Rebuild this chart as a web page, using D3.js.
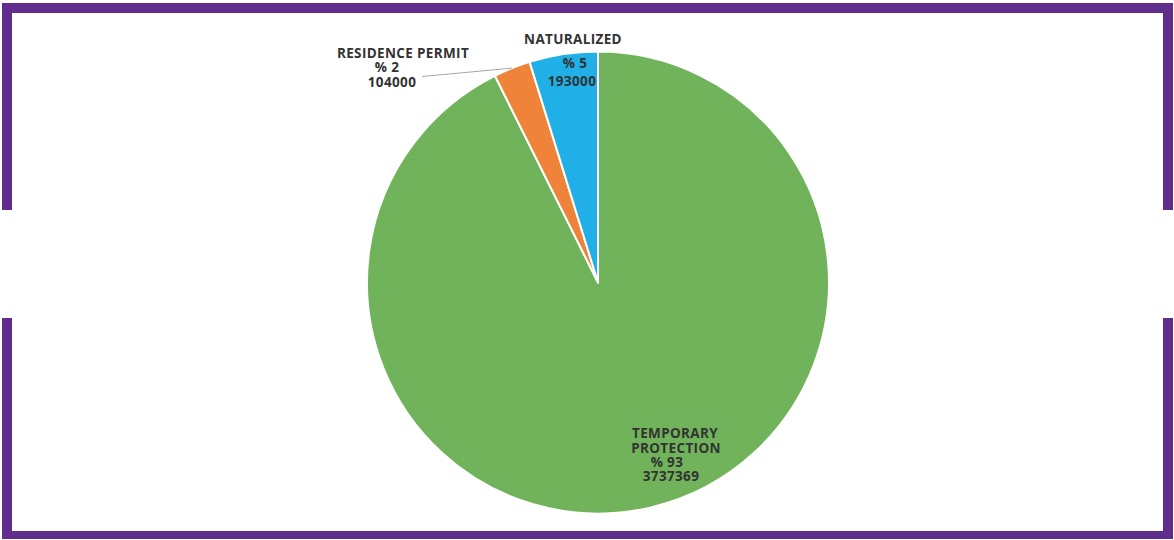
<!DOCTYPE html>
<html>
<head>
<meta charset="utf-8">
<script src="https://cdn.jsdelivr.net/npm/d3@7"></script>
<style>
  html, body { margin: 0; padding: 0; background: #ffffff; }
  svg { display: block; }
  .lbl { font-family: "Open Sans", "Liberation Sans", sans-serif; font-weight: 700; font-size: 13.5px; letter-spacing: 0.35px; fill: #333333; }
</style>
</head>
<body>
<svg id="chart" width="1174" height="540"></svg>
<script>
// Status categories, in clockwise order from 12 o'clock
const categories = ["TEMPORARY PROTECTION", "RESIDENCE PERMIT", "NATURALIZED"];
const values = [3737369, 104000, 193000];
const percentLabels = ["% 93", "% 2", "% 5"];
const colors = ["#70b35a", "#f0833a", "#20afe6"];

const W = 1174, H = 540;
const cx = 598, cy = 282.5, R = 231;
const purple = "#612d8c";

const svg = d3.select("#chart");

// Frame: purple border with openings in the middle of the side edges
const frame = svg.append("g").attr("fill", purple);
frame.append("rect").attr("x", 2).attr("y", 3).attr("width", 1171).attr("height", 10);
frame.append("rect").attr("x", 2).attr("y", 531).attr("width", 1171).attr("height", 8);
frame.append("rect").attr("x", 2).attr("y", 3).attr("width", 10).attr("height", 207);
frame.append("rect").attr("x", 2).attr("y", 318).attr("width", 10).attr("height", 221);
frame.append("rect").attr("x", 1163).attr("y", 3).attr("width", 10).attr("height", 207);
frame.append("rect").attr("x", 1163).attr("y", 318).attr("width", 10).attr("height", 221);

const pie = d3.pie().sort(null).value(d => d)(values);
const arc = d3.arc().innerRadius(0).outerRadius(R);

const g = svg.append("g").attr("transform", `translate(${cx},${cy})`);
g.selectAll("path.slice")
  .data(pie)
  .join("path")
  .attr("class", "slice")
  .attr("d", arc)
  .attr("fill", (d, i) => colors[i])
  .attr("stroke", "#ffffff")
  .attr("stroke-width", 2)
  .attr("stroke-linejoin", "round");

// Label text lines for each slice: name lines, percent, value
const labelLines = [
  [categories[0].split(" ")[0], categories[0].split(" ")[1], percentLabels[0], String(values[0])],
  [categories[1], percentLabels[1], String(values[1])],
  [categories[2], percentLabels[2], String(values[2])]
];
// Per-line placement (x centre, baseline) relative to the pie centre
const labelPos = [
  [[77, 155.5], [78, 170.5], [69, 184.5], [73, 198.5]],
  [[-195, -224.5], [-211, -210.5], [-206, -195.5]],
  [[-25, -238.5], [-23, -214.5], [-26, -196.5]]
];

labelLines.forEach((lines, i) => {
  lines.forEach((t, j) => {
    g.append("text")
      .attr("class", "lbl")
      .attr("x", labelPos[i][j][0])
      .attr("y", labelPos[i][j][1])
      .attr("text-anchor", "middle")
      .text(t);
  });
});

// Leader line from the residence permit label to its slice edge
const mid = (pie[1].startAngle + pie[1].endAngle) / 2;
const edge = [R * Math.sin(mid), -R * Math.cos(mid)];
g.append("line")
  .attr("x1", -176).attr("y1", -206)
  .attr("x2", edge[0]).attr("y2", edge[1])
  .attr("stroke", "#a6a6a6")
  .attr("stroke-width", 1);
</script>
</body>
</html>
